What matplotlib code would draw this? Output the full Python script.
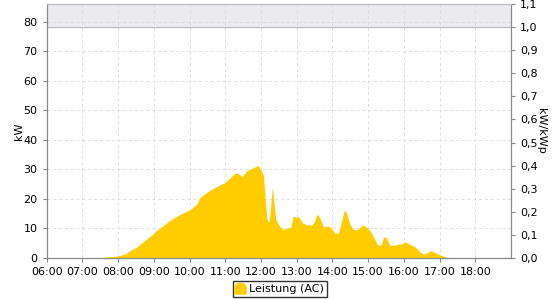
import matplotlib
matplotlib.use("Agg")
import matplotlib.pyplot as plt
from matplotlib.lines import Line2D
from matplotlib.path import Path
import numpy as np

times = ["07:30","07:35","07:45","08:00","08:11","08:15","08:20","08:32","08:42","08:48",
         "09:00","09:05","09:12","09:20","09:33","09:45","10:00","10:12","10:17","10:35",
         "11:00","11:16","11:20","11:29","11:36","11:53","11:56","12:04","12:10","12:14",
         "12:19","12:25","12:32","12:36","12:42","12:50","12:54","13:00","13:03","13:10",
         "13:17","13:25","13:29","13:34","13:38","13:45","13:53","13:58","14:04","14:10",
         "14:16","14:20","14:24","14:30","14:35","14:41","14:46","14:51","14:58","15:04",
         "15:10","15:16","15:22","15:26","15:30","15:36","15:43","15:51","15:57","16:02",
         "16:10","16:19","16:27","16:33","16:39","16:45","16:52","17:01","17:09","17:17"]
power_kw = [0, 0.1, 0.3, 0.6, 1.2, 1.6, 2.4, 3.7, 5.4, 6.4,
            8.3, 9.4, 10.3, 11.6, 13.4, 14.8, 16.2, 18.1, 20.4, 23.0,
            25.6, 28.6, 28.8, 27.5, 29.5, 31.1, 31.2, 28.0, 12.8, 12.2,
            24.0, 12.8, 10.5, 9.6, 10.0, 10.3, 14.1, 13.7, 13.9, 11.7,
            11.2, 11.1, 11.9, 14.8, 13.9, 10.5, 10.7, 10.0, 8.3, 8.3,
            12.8, 16.2, 15.0, 11.1, 9.6, 9.4, 10.3, 11.2, 10.2, 9.0,
            6.6, 4.3, 4.3, 7.0, 7.0, 4.3, 4.2, 4.6, 4.7, 5.4,
            4.5, 3.7, 2.0, 1.25, 1.7, 2.4, 1.8, 0.9, 0.35, 0]
hour_ticks = ["06:00","07:00","08:00","09:00","10:00","11:00","12:00",
              "13:00","14:00","15:00","16:00","17:00","18:00"]
left_ticks = [0, 10, 20, 30, 40, 50, 60, 70, 80]
right_ticks = [0.0, 0.1, 0.2, 0.3, 0.4, 0.5, 0.6, 0.7, 0.8, 0.9, 1.0, 1.1]
kwp = 78.2
series_name = "Leistung (AC)"

def to_h(s):
    h, m = s.split(":")
    return int(h) + int(m) / 60.0

x = np.array([to_h(t) for t in times])
y = np.array(power_kw)

fig = plt.figure(figsize=(5.6, 3.0), dpi=100)
ax = fig.add_axes([0.0834, 0.141, 0.8291, 0.8447])
ymax = 86.0
ax.set_xlim(6, 19)
ax.set_ylim(0, ymax)

ax.axhspan(kwp, ymax, color="#ebeaee", zorder=0)
ax.axhline(kwp, color="#bbbbbb", lw=0.8, zorder=1)

ax.fill_between(x, 0, y, color="#ffcc00", lw=0, zorder=3)

ax.set_xticks([to_h(t) for t in hour_ticks])
ax.set_xticklabels(hour_ticks)
ax.set_yticks(left_ticks)
ax.grid(True, color="#dcdcdc", lw=0.7, ls=(0, (3, 3)), zorder=2)
ax.set_axisbelow(True)

spine_c = "#888888"
for s in ax.spines.values():
    s.set_color(spine_c)
ax.spines["top"].set_color("#bbbbbb")
ax.tick_params(colors=spine_c, labelcolor="black", labelsize=8, length=3, width=0.8)
ax.set_ylabel("kW", fontsize=8, labelpad=0)

ax2 = ax.twinx()
ax2.set_ylim(0, ymax / kwp)
ax2.set_yticks(right_ticks)
ax2.set_yticklabels([f"{v:.1f}".replace(".", ",") for v in right_ticks])
ax2.tick_params(colors=spine_c, labelcolor="black", labelsize=8, length=3, width=0.8)
for s in ax2.spines.values():
    s.set_color(spine_c)
ax2.spines["top"].set_color("#bbbbbb")
ax2.set_ylabel("kW/kWp", fontsize=8, rotation=-90, labelpad=6)

# bell-shaped legend icon
theta = np.linspace(0, np.pi, 20)
verts = [(-1.0, -1.0), (1.0, -1.0), (1.0, 0.0)]
verts += [(0.8 * np.cos(t) + 0.2 * np.sign(np.cos(t)) if abs(np.cos(t)) > 1e-9 else 0.0,
           0.9 * np.sin(t)) for t in theta]
verts += [(-1.0, 0.0), (-1.0, -1.0)]
bell = Path(verts)
handle = Line2D([], [], marker=bell, color="#ffcc00", markersize=8, lw=0)
fig.legend([handle], [series_name], loc="center", bbox_to_anchor=(0.5, 0.037),
           fontsize=8, frameon=True, fancybox=False, edgecolor="black",
           handlelength=0.8, handletextpad=0.4, borderpad=0.3)

fig.savefig("out.png", dpi=100)
